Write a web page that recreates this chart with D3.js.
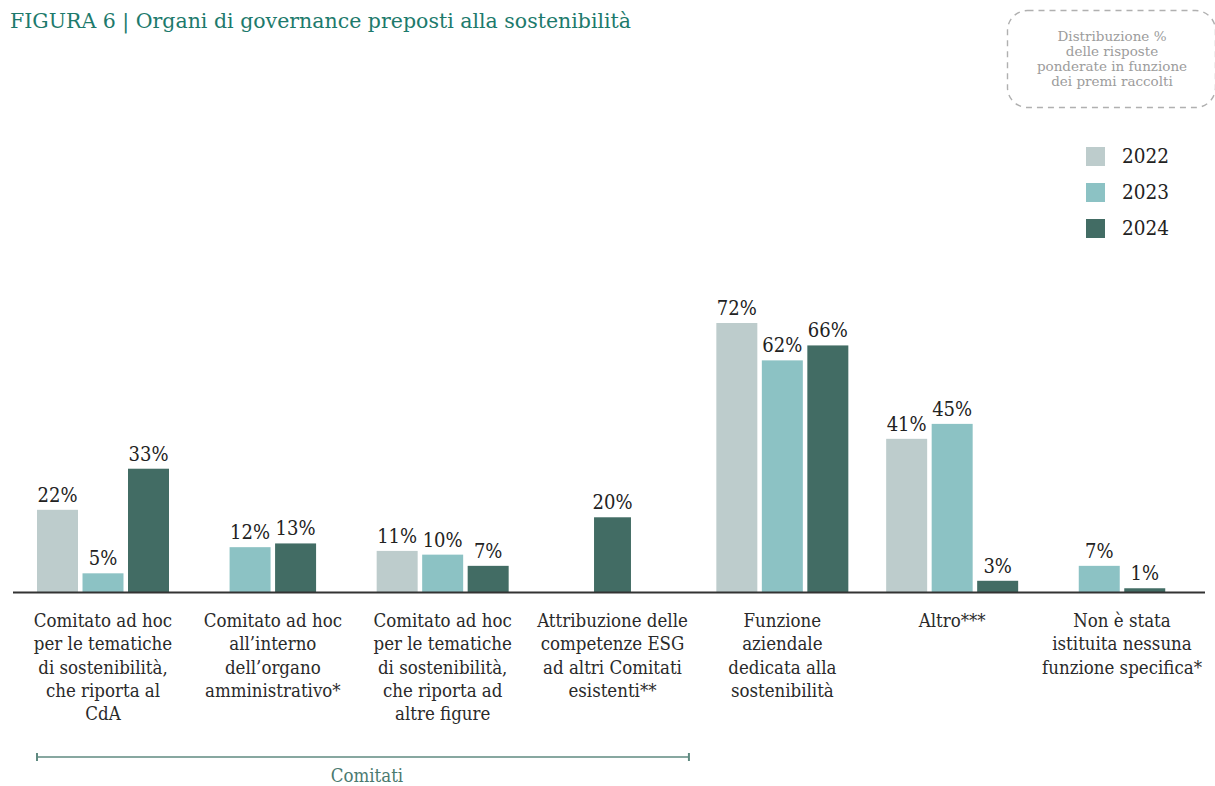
<!DOCTYPE html>
<html lang="it">
<head>
<meta charset="utf-8">
<title>Organi di governance preposti alla sostenibilità</title>
<script src="https://cdn.jsdelivr.net/npm/d3@7"></script>
<style>
  html, body { margin: 0; padding: 0; background: #ffffff; }
  svg { display: block; }
  .cond { font-family: "DejaVu Serif Condensed", "DejaVu Serif", serif; font-stretch: condensed; }
  .serif { font-family: "DejaVu Serif", serif; }
</style>
</head>
<body>
<svg id="chart" width="1215" height="786"></svg>
<script>
// Category labels (line breaks mark the wrapped rows under the axis)
const categories = [
  "Comitato ad hoc\nper le tematiche\ndi sostenibilità,\nche riporta al\nCdA",
  "Comitato ad hoc\nall’interno\ndell’organo\namministrativo*",
  "Comitato ad hoc\nper le tematiche\ndi sostenibilità,\nche riporta ad\naltre figure",
  "Attribuzione delle\ncompetenze ESG\nad altri Comitati\nesistenti**",
  "Funzione\naziendale\ndedicata alla\nsostenibilità",
  "Altro***",
  "Non è stata\nistituita nessuna\nfunzione specifica*"
];

// Survey years
const years = ["2022", "2023", "2024"];

// Percentages per year (null = option not surveyed that year)
const values2022 = [22, null, 11, null, 72, 41, null];
const values2023 = [5, 12, 10, null, 62, 45, 7];
const values2024 = [33, 13, 7, 20, 66, 3, 1];

// Categories grouped under the "Comitati" bracket
const bracketGroup = categories.slice(0, 4);
const bracketLabel = "Comitati";

const titleText = "FIGURA 6 | Organi di governance preposti alla sostenibilità";
const noteLines = ["Distribuzione %", "delle risposte", "ponderate in funzione", "dei premi raccolti"];

const colors = d3.scaleOrdinal().domain(years).range(["#bdcccc", "#8cc2c4", "#426c64"]);

const series = { "2022": values2022, "2023": values2023, "2024": values2024 };

const svg = d3.select("#chart");

// Scales
const x = d3.scalePoint().domain(categories).range([103, 1122]);
const y = d3.scaleLinear().domain([0, 100]).range([592, 592 - 373.6]);
const barStep = 45.5;
const barPad = 0.099;

// Title
svg.append("text")
  .attr("class", "serif")
  .attr("x", 10).attr("y", 28)
  .attr("font-size", 20.5)
  .attr("fill", "#1d7a6c")
  .text(titleText);

// Dashed note box
svg.append("rect")
  .attr("x", 1007.5).attr("y", 10.5)
  .attr("width", 208).attr("height", 97)
  .attr("rx", 20).attr("ry", 20)
  .attr("fill", "none")
  .attr("stroke", "#b0b0b0")
  .attr("stroke-width", 1.4)
  .attr("stroke-dasharray", "6,5");

svg.append("g").selectAll("text")
  .data(noteLines)
  .join("text")
  .attr("class", "serif")
  .attr("x", 1112)
  .attr("y", (d, i) => 41 + i * 15)
  .attr("text-anchor", "middle")
  .attr("font-size", 13.5)
  .attr("fill", "#9c9c9c")
  .text(d => d);

// Legend
const legend = svg.append("g").attr("transform", "translate(1086,147)");
const li = legend.selectAll("g").data(years).join("g")
  .attr("transform", (d, i) => `translate(0,${i * 36})`);
li.append("rect").attr("width", 19).attr("height", 19).attr("fill", d => colors(d));
li.append("text")
  .attr("class", "cond")
  .attr("x", 36).attr("y", 16)
  .attr("font-size", 20.5)
  .attr("fill", "#222")
  .text(d => d);

// Bars grouped by category; missing years are dropped and the group re-centred
const groups = svg.append("g").selectAll("g")
  .data(categories.map((c, i) => ({
    cat: c,
    bars: years.filter(yr => series[yr][i] != null).map(yr => ({ year: yr, value: series[yr][i] }))
  })))
  .join("g")
  .attr("transform", d => `translate(${x(d.cat)},0)`);

groups.each(function (d) {
  const n = d.bars.length;
  const w = barStep * (n - barPad);
  const inner = d3.scaleBand()
    .domain(d.bars.map(b => b.year))
    .range([-w / 2, w / 2])
    .paddingInner(barPad)
    .paddingOuter(0);
  const g = d3.select(this);
  g.selectAll("rect").data(d.bars).join("rect")
    .attr("x", b => inner(b.year))
    .attr("y", b => y(b.value))
    .attr("width", inner.bandwidth())
    .attr("height", b => y(0) - y(b.value))
    .attr("fill", b => colors(b.year));
  g.selectAll("text.val").data(d.bars).join("text")
    .attr("class", "val cond")
    .attr("x", b => inner(b.year) + inner.bandwidth() / 2)
    .attr("y", b => y(b.value) - 8)
    .attr("text-anchor", "middle")
    .attr("font-size", 20)
    .attr("fill", "#222")
    .text(b => b.value + "%");
});

// Baseline
svg.append("line")
  .attr("x1", 13).attr("x2", 1205)
  .attr("y1", y(0) + 0.5).attr("y2", y(0) + 0.5)
  .attr("stroke", "#333")
  .attr("stroke-width", 2);

// Category labels
const labels = svg.append("g").selectAll("text")
  .data(categories)
  .join("text")
  .attr("class", "cond")
  .attr("text-anchor", "middle")
  .attr("font-size", 18.5)
  .attr("fill", "#2a2a2a")
  .attr("transform", d => `translate(${x(d)},627)`);
labels.selectAll("tspan")
  .data(d => d.split("\n"))
  .join("tspan")
  .attr("x", 0)
  .attr("y", (d, i) => i * 23.3)
  .text(d => d);

// "Comitati" bracket
const bx0 = x(bracketGroup[0]) - (barStep * (3 - barPad)) / 2;
const bx1 = x(bracketGroup[bracketGroup.length - 1]) + x.step() * 0.45;
const br = svg.append("g").attr("stroke", "#5f8a80").attr("stroke-width", 1.5);
br.append("line").attr("x1", bx0).attr("x2", bx1).attr("y1", 757).attr("y2", 757);
br.append("line").attr("x1", bx0).attr("x2", bx0).attr("y1", 753).attr("y2", 761).attr("stroke-width", 2);
br.append("line").attr("x1", bx1).attr("x2", bx1).attr("y1", 753).attr("y2", 761).attr("stroke-width", 2);
svg.append("text")
  .attr("class", "cond")
  .attr("x", (bx0 + bx1) / 2 + 4)
  .attr("y", 782)
  .attr("text-anchor", "middle")
  .attr("font-size", 18.5)
  .attr("fill", "#4b7a70")
  .text(bracketLabel);
</script>
</body>
</html>
